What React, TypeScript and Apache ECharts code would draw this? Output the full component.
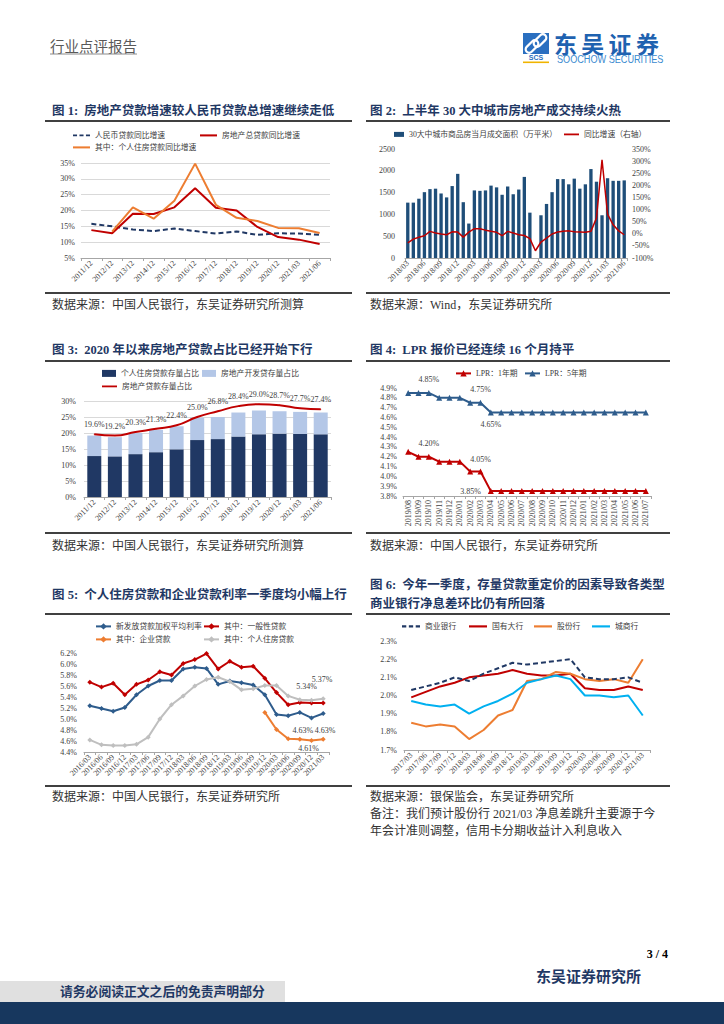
import React, { useEffect, useRef } from "react";
import * as echarts from "echarts";

const SERIF = '"Liberation Serif", "Noto Sans CJK SC", serif';
const CJK = '"Noto Sans CJK SC", "Liberation Serif", sans-serif';
const TITLE_C = "#1f3864";
const TXT_C = "#404040";

// ---------- Chart 1 ----------
const c1Cats = ["2011/12", "2012/12", "2013/12", "2014/12", "2015/12", "2016/12", "2017/12", "2018/12", "2019/12", "2020/12", "2021/03", "2021/06"];
const c1Rmb = [15.8, 15.0, 14.0, 13.5, 14.3, 13.5, 12.7, 13.4, 12.3, 12.8, 12.7, 12.3];
const c1Re = [13.8, 12.8, 19.0, 18.9, 21.0, 27.0, 20.9, 20.0, 14.8, 11.6, 10.8, 9.4];
const c1Mort = [null, 13.3, 21.0, 17.4, 23.1, 34.8, 21.8, 17.7, 16.7, 14.5, 14.4, 12.9];

// ---------- Chart 2 ----------
const c2Cats = [
  "2018/03", "2018/04", "2018/05", "2018/06", "2018/07", "2018/08", "2018/09", "2018/10", "2018/11", "2018/12",
  "2019/01", "2019/02", "2019/03", "2019/04", "2019/05", "2019/06", "2019/07", "2019/08", "2019/09", "2019/10",
  "2019/11", "2019/12", "2020/01", "2020/02", "2020/03", "2020/04", "2020/05", "2020/06", "2020/07", "2020/08",
  "2020/09", "2020/10", "2020/11", "2020/12", "2021/01", "2021/02", "2021/03", "2021/04", "2021/05", "2021/06",
];
const c2Area = [
  1270, 1270, 1360, 1510, 1580, 1590, 1480, 1390, 1650, 1930,
  1280, 790, 1550, 1540, 1550, 1660, 1620, 1450, 1640, 1460,
  1570, 1860, 1040, null, 980, 1240, 1510, 1810, 1810, 1690,
  1820, 1590, 1690, 2040, 1750, 980, 1830, 1770, 1770, 1780,
];
const c2Yoy = [
  -38, -22, -14, -8, 10, 3, -1, -4, 8, 7,
  -14, 7, 21, 21, 15, 10, 6, -8, 10, 3,
  -4, -7, -20, -70, -34, -18, -1, 7, 10, 12,
  8, 7, 6, 10, 65, 305, 81, 37, 12, -4,
];

// ---------- Chart 3 ----------
const c3Mort = [12.8, 12.7, 13.4, 14.0, 14.9, 17.8, 18.1, 18.9, 19.6, 19.8, 19.7, 19.6];
const c3Dev = [6.4, 6.0, 6.6, 7.0, 7.2, 7.0, 6.9, 7.5, 7.4, 7.0, 6.9, 6.8];
const c3Total = [19.6, 19.2, 20.3, 21.3, 22.4, 25.0, 26.8, 28.4, 29.0, 28.7, 27.7, 27.4];

// ---------- Chart 4 ----------
const c4Cats = [
  "2019/08", "2019/09", "2019/10", "2019/11", "2019/12", "2020/01", "2020/02", "2020/03",
  "2020/04", "2020/05", "2020/06", "2020/07", "2020/08", "2020/09", "2020/10", "2020/11",
  "2020/12", "2021/01", "2021/02", "2021/03", "2021/04", "2021/05", "2021/06", "2021/07",
];
const c4Y1 = [4.25, 4.2, 4.2, 4.15, 4.15, 4.15, 4.05, 4.05, 3.85, 3.85, 3.85, 3.85, 3.85, 3.85, 3.85, 3.85, 3.85, 3.85, 3.85, 3.85, 3.85, 3.85, 3.85, 3.85];
const c4Y5 = [4.85, 4.85, 4.85, 4.8, 4.8, 4.8, 4.75, 4.75, 4.65, 4.65, 4.65, 4.65, 4.65, 4.65, 4.65, 4.65, 4.65, 4.65, 4.65, 4.65, 4.65, 4.65, 4.65, 4.65];

// ---------- Chart 5 ----------
const c5Cats = [
  "2016/03", "2016/06", "2016/09", "2016/12", "2017/03", "2017/06", "2017/09", "2017/12",
  "2018/03", "2018/06", "2018/09", "2018/12", "2019/03", "2019/06", "2019/09", "2019/12",
  "2020/03", "2020/06", "2020/09", "2020/12", "2021/03",
];
const c5New = [5.24, 5.19, 5.14, 5.21, 5.44, 5.6, 5.7, 5.7, 5.91, 5.94, 5.92, 5.63, 5.69, 5.66, 5.62, 5.44, 5.08, 5.06, 5.12, 5.02, 5.1];
const c5Gen = [5.67, 5.58, 5.65, 5.44, 5.63, 5.71, 5.86, 5.8, 6.01, 6.08, 6.19, 5.91, 6.05, 5.94, 5.96, 5.74, 5.48, 5.26, 5.3, 5.29, 5.29];
const c5Ent = [null, null, null, null, null, null, null, null, null, null, null, null, null, null, null, 5.12, 4.81, 4.64, 4.63, 4.61, 4.63];
const c5Mort = [4.62, 4.53, 4.52, 4.52, 4.54, 4.67, 5.0, 5.26, 5.42, 5.6, 5.72, 5.76, 5.68, 5.53, 5.55, 5.61, 5.61, 5.42, 5.35, 5.34, 5.37];

// ---------- Chart 6 ----------
const c6Cats = [
  "2017/03", "2017/06", "2017/09", "2017/12", "2018/03", "2018/06", "2018/09", "2018/12",
  "2019/03", "2019/06", "2019/09", "2019/12", "2020/03", "2020/06", "2020/09", "2020/12", "2021/03",
];
const c6All = [2.03, 2.05, 2.07, 2.1, 2.08, 2.12, 2.15, 2.18, 2.17, 2.18, 2.19, 2.2, 2.1, 2.09, 2.09, 2.1, 2.07];
const c6Big = [1.99, 2.02, 2.05, 2.07, 2.1, 2.11, 2.12, 2.14, 2.12, 2.11, 2.11, 2.12, 2.04, 2.03, 2.03, 2.05, 2.03];
const c6Joint = [1.85, 1.83, 1.84, 1.83, 1.76, 1.81, 1.89, 1.92, 2.08, 2.09, 2.13, 2.12, 2.09, 2.08, 2.09, 2.07, 2.2];
const c6City = [1.97, 1.95, 1.94, 1.95, 1.9, 1.94, 1.97, 2.01, 2.07, 2.09, 2.11, 2.09, 2.0, 2.0, 1.99, 2.0, 1.89];

// ---------- names ----------
const N1a = "人民币贷款同比增速";
const N1b = "房地产总贷款同比增速";
const N1c = "其中：个人住房贷款同比增速";
const N2a = "30大中城市商品房当月成交面积（万平米）";
const N2b = "同比增速（右轴）";
const N3a = "个人住房贷款存量占比";
const N3b = "房地产开发贷存量占比";
const N3c = "房地产贷款存量占比";
const N4a = "LPR：1年期";
const N4b = "LPR：5年期";
const N5a = "新发放贷款加权平均利率";
const N5b = "其中：一般性贷款";
const N5c = "其中：企业贷款";
const N5d = "其中：个人住房贷款";
const N6a = "商业银行";
const N6b = "国有大行";
const N6c = "股份行";
const N6d = "城商行";

const RED = "#c00000";
const ORANGE = "#ed7d31";
const NAVY = "#203864";
const BLUE = "#2e5c8c";
const GRAY = "#bfbfbf";
const CYAN = "#00b0f0";

const axisLabelBase = { fontFamily: SERIF, fontSize: 8, color: TXT_C };

function xCat(gridIndex: number, data: string[], rotate: number, interval = 0) {
  return {
    type: "category",
    gridIndex,
    data,
    boundaryGap: true,
    axisLine: { show: true, lineStyle: { color: "#a6a6a6", width: 1 } },
    axisTick: { show: true, length: 3, lineStyle: { color: "#a6a6a6" } },
    axisLabel: { ...axisLabelBase, rotate, interval, margin: 4 },
    splitLine: { show: false },
  };
}

function yVal(gridIndex: number, min: number, max: number, interval: number, fmt: (v: number) => string, grid: boolean, margin: number, position = "left") {
  return {
    type: "value",
    gridIndex,
    min,
    max,
    interval,
    position,
    axisLine: { show: false },
    axisTick: { show: false },
    axisLabel: { ...axisLabelBase, margin, formatter: fmt },
    splitLine: { show: grid, lineStyle: { color: "#d9d9d9", width: 1 } },
  };
}

function withLabels(values: (number | null)[], labels: Record<number, any>) {
  return values.map((v, i) => (labels[i] ? { value: v, label: { show: true, ...labels[i] } } : v));
}

function lg(name: string, left: number, cy: number, opts: any = {}) {
  return {
    show: true,
    left,
    top: cy - 4.5,
    padding: 0,
    itemGap: 0,
    itemWidth: opts.itemWidth ?? 17,
    itemHeight: opts.itemHeight ?? 8,
    selectedMode: false,
    data: [opts.icon ? { name, icon: opts.icon } : name],
    textStyle: { fontFamily: SERIF, fontSize: 7.8, color: TXT_C },
  };
}

function txt(text: string, x: number, y: number, o: any = {}) {
  return {
    type: "text",
    x,
    y,
    silent: true,
    scaleX: o.scaleX ?? 1,
    style: {
      text,
      x: 0,
      y: 0,
      fill: o.fill ?? "#333",
      fontSize: o.fontSize ?? 12,
      fontFamily: o.fontFamily ?? SERIF,
      fontWeight: o.fontWeight ?? "normal",
      align: o.align ?? "left",
      textAlign: o.align ?? "left",
      verticalAlign: "middle",
      textVerticalAlign: "middle",
    },
  };
}

function hline(x1: number, x2: number, y: number, color = "#404040", w = 2) {
  return { type: "line", silent: true, shape: { x1, y1: y, x2, y2: y }, style: { stroke: color, lineWidth: w } };
}

const pctFmt = (d: number) => (v: number) => v.toFixed(d) + "%";
const lblStyle = { fontFamily: SERIF, fontSize: 8, color: TXT_C };

const LINE_ICON = "path://M0,0H20V2.4H0Z";
const DASH_ICON = "path://M0,0H5V2.4H0Z M8,0H13V2.4H8Z M16,0H21V2.4H16Z";

function buildOption() {
  const grids = [
    { left: 81, top: 163, width: 249, height: 95 },
    { left: 405, top: 149, width: 222, height: 109 },
    { left: 84, top: 401, width: 247, height: 96 },
    { left: 403, top: 388, width: 248, height: 108 },
    { left: 84, top: 653, width: 245, height: 99 },
    { left: 404, top: 641, width: 246, height: 109 },
  ];

  const xAxis = [
    xCat(0, c1Cats, 45),
    xCat(1, c2Cats, 45, 2),
    xCat(2, c1Cats, 45),
    xCat(3, c4Cats, 90),
    xCat(4, c5Cats, 45),
    xCat(5, c6Cats, 45),
  ];

  const yAxis = [
    yVal(0, 5, 35, 5, pctFmt(0), true, 6),
    yVal(1, 0, 2500, 500, (v: number) => String(v), false, 10),
    yVal(1, -100, 350, 50, pctFmt(0), false, 5, "right"),
    yVal(2, 0, 30, 5, pctFmt(0), true, 8),
    yVal(3, 3.8, 4.9, 0.1, pctFmt(1), false, 6),
    yVal(4, 4.4, 6.2, 0.2, pctFmt(1), false, 7),
    yVal(5, 1.7, 2.3, 0.1, pctFmt(1), false, 7),
  ];

  const line = (name: string, xi: number, yi: number, data: any[], color: string, extra: any = {}) => ({
    name,
    type: "line",
    xAxisIndex: xi,
    yAxisIndex: yi,
    data,
    symbol: "none",
    itemStyle: { color },
    z: extra.z ?? 3,
    lineStyle: { color, width: 2, ...(extra.lineStyle || {}) },
  });

  const fmt2 = (p: any) => Number(p.value).toFixed(2) + "%";

  const series: any[] = [
    // chart 1
    line(N1a, 0, 0, c1Rmb, NAVY, { lineStyle: { type: [5, 3] } }),
    line(N1b, 0, 0, c1Re, RED),
    line(N1c, 0, 0, c1Mort, ORANGE),
    // chart 2
    {
      name: N2a, type: "bar", xAxisIndex: 1, yAxisIndex: 1, data: c2Area,
      barWidth: "60%", itemStyle: { color: "#1f4e79" },
    },
    line(N2b, 1, 2, c2Yoy, RED, { lineStyle: { width: 1.5 } }),
    // chart 3
    {
      name: N3a, type: "bar", xAxisIndex: 2, yAxisIndex: 3, stack: "c3", data: c3Mort,
      barWidth: 14, itemStyle: { color: NAVY },
    },
    {
      name: N3b, type: "bar", xAxisIndex: 2, yAxisIndex: 3, stack: "c3", data: c3Dev,
      barWidth: 14, itemStyle: { color: "#b4c7e7" },
    },
    {
      name: N3c, type: "line", xAxisIndex: 2, yAxisIndex: 3, data: c3Total, smooth: true,
      symbol: "circle", symbolSize: 1, z: 5,
      lineStyle: { color: RED, width: 2 }, itemStyle: { color: RED },
      label: { show: true, position: "top", distance: 5, ...lblStyle, formatter: (p: any) => Number(p.value).toFixed(1) + "%" },
    },
    // chart 4
    {
      name: N4a, type: "line", xAxisIndex: 3, yAxisIndex: 4,
      data: withLabels(c4Y1, {
        2: { position: "top", distance: 6 },
        7: { position: "top", distance: 5 },
        8: { position: "left", distance: 7 },
      }),
      symbol: "triangle", symbolSize: 6,
      lineStyle: { color: RED, width: 2 }, itemStyle: { color: RED },
      label: { show: false, ...lblStyle, formatter: fmt2 },
    },
    {
      name: N4b, type: "line", xAxisIndex: 3, yAxisIndex: 4,
      data: withLabels(c4Y5, {
        2: { position: "top", distance: 6 },
        7: { position: "top", distance: 6 },
        8: { position: "bottom", distance: 5 },
      }),
      symbol: "triangle", symbolSize: 6,
      lineStyle: { color: BLUE, width: 2 }, itemStyle: { color: BLUE },
      label: { show: false, ...lblStyle, formatter: fmt2 },
    },
    // chart 5
    {
      name: N5a, type: "line", xAxisIndex: 4, yAxisIndex: 5, data: c5New,
      symbol: "diamond", symbolSize: 5,
      lineStyle: { color: BLUE, width: 2 }, itemStyle: { color: BLUE },
    },
    {
      name: N5b, type: "line", xAxisIndex: 4, yAxisIndex: 5, data: c5Gen,
      symbol: "diamond", symbolSize: 5,
      lineStyle: { color: RED, width: 2 }, itemStyle: { color: RED },
    },
    {
      name: N5c, type: "line", xAxisIndex: 4, yAxisIndex: 5,
      data: withLabels(c5Ent, {
        18: { position: "top", distance: 2, offset: [3, 0] },
        19: { position: "bottom", distance: 2, offset: [-3, 0] },
        20: { position: "top", distance: 2, offset: [2, 0] },
      }),
      symbol: "diamond", symbolSize: 5,
      lineStyle: { color: ORANGE, width: 2 }, itemStyle: { color: ORANGE },
      label: { show: false, ...lblStyle, formatter: fmt2 },
    },
    {
      name: N5d, type: "line", xAxisIndex: 4, yAxisIndex: 5,
      data: withLabels(c5Mort, {
        19: { position: "top", distance: 7, offset: [-5, 0] },
        20: { position: "top", distance: 13, offset: [-1, 0] },
      }),
      symbol: "diamond", symbolSize: 5,
      lineStyle: { color: GRAY, width: 2 }, itemStyle: { color: GRAY },
      label: { show: false, ...lblStyle, formatter: fmt2 },
    },
    // chart 6
    line(N6a, 5, 6, c6All, NAVY, { lineStyle: { type: [5, 3] }, z: 6 }),
    line(N6b, 5, 6, c6Big, RED),
    line(N6c, 5, 6, c6Joint, ORANGE),
    line(N6d, 5, 6, c6City, CYAN),
  ];

  const legend = [
    lg(N1a, 73, 136, { icon: DASH_ICON, itemWidth: 17, itemHeight: 3 }),
    lg(N1b, 200, 136, { icon: LINE_ICON, itemWidth: 17, itemHeight: 3 }),
    lg(N1c, 73, 148, { icon: LINE_ICON, itemWidth: 17, itemHeight: 3 }),
    lg(N2a, 394, 135, { icon: "rect", itemWidth: 10, itemHeight: 5 }),
    lg(N2b, 564, 135, { icon: LINE_ICON, itemWidth: 15, itemHeight: 3 }),
    lg(N3a, 102, 374, { icon: "rect", itemWidth: 14, itemHeight: 7 }),
    lg(N3b, 202, 374, { icon: "rect", itemWidth: 14, itemHeight: 7 }),
    lg(N3c, 102, 387, { icon: LINE_ICON, itemWidth: 15, itemHeight: 3 }),
    lg(N4a, 455, 374, { itemWidth: 15 }),
    lg(N4b, 524, 374, { itemWidth: 15 }),
    lg(N5a, 95, 627, { itemWidth: 15 }),
    lg(N5b, 203, 627, { itemWidth: 15 }),
    lg(N5c, 95, 640, { itemWidth: 15 }),
    lg(N5d, 203, 640, { itemWidth: 15 }),
    lg(N6a, 402, 627, { icon: DASH_ICON, itemWidth: 18, itemHeight: 3 }),
    lg(N6b, 469, 627, { icon: LINE_ICON, itemWidth: 18, itemHeight: 3 }),
    lg(N6c, 534, 627, { icon: LINE_ICON, itemWidth: 18, itemHeight: 3 }),
    lg(N6d, 592, 627, { icon: LINE_ICON, itemWidth: 18, itemHeight: 3 }),
  ];

  const titleOpt = { fontSize: 12.5, fontWeight: "bold", fill: TITLE_C, fontFamily: SERIF };
  const srcOpt = { fontSize: 12, fill: "#333", fontFamily: SERIF };

  const L1 = [45, 352];
  const L2 = [366, 670];

  const elements: any[] = [
    // header
    txt("行业点评报告", 50, 45, { fontSize: 14.5, fill: "#595959", fontFamily: CJK }),
    hline(50, 137, 54, "#8c8c8c", 1),
    // logo
    { type: "rect", silent: true, shape: { x: 523, y: 33, width: 26, height: 21 }, style: { fill: "#2a6fc0" } },
    {
      type: "rect", silent: true, x: 532, y: 46.5, rotation: Math.PI / 4,
      shape: { x: -7.5, y: -3.5, width: 15, height: 7, r: 3.5 },
      style: { fill: "none", stroke: "#ffffff", lineWidth: 2.2 },
    },
    {
      type: "rect", silent: true, x: 540, y: 40.5, rotation: Math.PI / 4,
      shape: { x: -7.5, y: -3.5, width: 15, height: 7, r: 3.5 },
      style: { fill: "none", stroke: "#ffffff", lineWidth: 2.2 },
    },
    txt("SCS", 536, 57.8, { fontSize: 7, fontWeight: "bold", fill: "#2a6fc0", align: "center", fontFamily: '"Liberation Sans", sans-serif' }),
    { type: "rect", silent: true, shape: { x: 523, y: 61.5, width: 26, height: 1.6 }, style: { fill: "#f0b400" } },
    txt("东", 554, 43, { fontSize: 23, fontWeight: "bold", fill: "#1f62b0", fontFamily: CJK }),
    txt("吴", 581.3, 43, { fontSize: 23, fontWeight: "bold", fill: "#1f62b0", fontFamily: CJK }),
    txt("证", 608.6, 43, { fontSize: 23, fontWeight: "bold", fill: "#1f62b0", fontFamily: CJK }),
    txt("券", 635.9, 43, { fontSize: 23, fontWeight: "bold", fill: "#1f62b0", fontFamily: CJK }),
    txt("SOOCHOW SECURITIES", 557, 59.5, { fontSize: 11, fill: "#3a8ad0", fontFamily: '"Liberation Sans", sans-serif', scaleX: 0.83 }),

    // titles
    txt("图 1:  房地产贷款增速较人民币贷款总增速继续走低", 52, 111, titleOpt),
    txt("图 2:  上半年 30 大中城市房地产成交持续火热", 370, 111, titleOpt),
    txt("图 3:  2020 年以来房地产贷款占比已经开始下行", 52, 350, titleOpt),
    txt("图 4:  LPR 报价已经连续 16 个月持平", 370, 350, titleOpt),
    txt("图 5:  个人住房贷款和企业贷款利率一季度均小幅上行", 52, 595, titleOpt),
    txt("图 6:  今年一季度，存量贷款重定价的因素导致各类型", 370, 585, titleOpt),
    txt("商业银行净息差环比仍有所回落", 370, 604, titleOpt),

    // separator lines
    hline(L1[0], L1[1], 121), hline(L2[0], L2[1], 121),
    hline(L1[0], L1[1], 293), hline(L2[0], L2[1], 293),
    hline(L1[0], L1[1], 361), hline(L2[0], L2[1], 361),
    hline(L1[0], L1[1], 533), hline(L2[0], L2[1], 533),
    hline(L1[0], L1[1], 614), hline(L2[0], L2[1], 614),
    hline(L1[0], L1[1], 786), hline(L2[0], L2[1], 786),

    // sources
    txt("数据来源：中国人民银行，东吴证券研究所测算", 52, 305, srcOpt),
    txt("数据来源：Wind，东吴证券研究所", 370, 305, srcOpt),
    txt("数据来源：中国人民银行，东吴证券研究所测算", 52, 546, srcOpt),
    txt("数据来源：中国人民银行，东吴证券研究所", 370, 546, srcOpt),
    txt("数据来源：中国人民银行，东吴证券研究所", 52, 797, srcOpt),
    txt("数据来源：银保监会，东吴证券研究所", 370, 797, srcOpt),
    txt("备注：我们预计股份行 2021/03 净息差跳升主要源于今", 370, 814, srcOpt),
    txt("年会计准则调整，信用卡分期收益计入利息收入", 370, 831, srcOpt),

    // footer
    txt("3 / 4", 668, 954, { fontSize: 12, fontWeight: "bold", fill: "#000", align: "right" }),
    txt("东吴证券研究所", 536, 977, { fontSize: 15, fontWeight: "bold", fill: TITLE_C }),
    { type: "rect", silent: true, shape: { x: 0, y: 981, width: 285, height: 21 }, style: { fill: "#e0e0e0" } },
    txt("请务必阅读正文之后的免责声明部分", 60, 992, { fontSize: 12.8, fontWeight: "bold", fill: TITLE_C }),
    { type: "rect", silent: true, shape: { x: 0, y: 1002, width: 724, height: 22 }, style: { fill: "#17375e" } },
  ];

  return {
    animation: false,
    backgroundColor: "#ffffff",
    textStyle: { fontFamily: SERIF },
    grid: grids,
    xAxis,
    yAxis,
    legend,
    series,
    graphic: { elements },
  };
}

export default function App() {
  const ref = useRef<HTMLDivElement>(null);
  useEffect(() => {
    if (!ref.current) return;
    const chart = echarts.init(ref.current, undefined, { renderer: "svg" });
    chart.setOption(buildOption() as any);
    return () => chart.dispose();
  }, []);
  return (
    <div
      ref={ref}
      style={{ position: "absolute", left: 0, top: 0, width: 724, height: 1024, background: "#fff" }}
    />
  );
}
